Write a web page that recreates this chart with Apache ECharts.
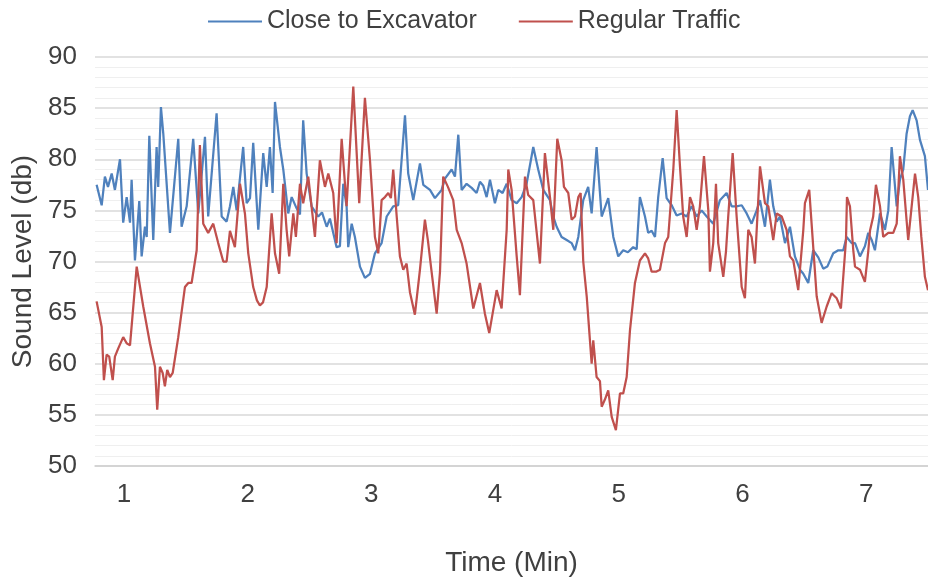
<!DOCTYPE html>
<html>
<head>
<meta charset="utf-8">
<title>Sound Level</title>
<script src="https://cdn.jsdelivr.net/npm/echarts@6/dist/echarts.min.js"></script>
<style>
  html, body { margin: 0; padding: 0; background: #ffffff; }
  #chart { width: 928px; height: 577px; }
</style>
</head>
<body>
<div id="chart"></div>
<script>
// Sound level readings (dB) against elapsed time (minutes)
const seriesNames = ['Close to Excavator', 'Regular Traffic'];
const xTickLabels = [1, 2, 3, 4, 5, 6, 7];

const excavatorTime = [
  0.779, 0.820, 0.846, 0.871, 0.901, 0.927, 0.968, 0.994, 1.022, 1.049,
  1.062, 1.089, 1.124, 1.143, 1.170, 1.184, 1.205, 1.237, 1.264, 1.277,
  1.299, 1.318, 1.372, 1.439, 1.466, 1.507, 1.560, 1.601, 1.655, 1.681,
  1.749, 1.790, 1.830, 1.857, 1.884, 1.911, 1.964, 1.992, 2.019, 2.045,
  2.086, 2.126, 2.154, 2.180, 2.202, 2.221, 2.261, 2.288, 2.328, 2.356,
  2.396, 2.423, 2.449, 2.477, 2.517, 2.571, 2.601, 2.639, 2.665, 2.719,
  2.746, 2.773, 2.800, 2.813, 2.841, 2.867, 2.908, 2.948, 2.989, 3.029,
  3.083, 3.124, 3.177, 3.217, 3.272, 3.298, 3.339, 3.393, 3.420, 3.474,
  3.514, 3.568, 3.595, 3.649, 3.676, 3.703, 3.730, 3.770, 3.811, 3.851,
  3.878, 3.905, 3.932, 3.959, 3.999, 4.026, 4.061, 4.094, 4.134, 4.175,
  4.215, 4.255, 4.309, 4.349, 4.390, 4.444, 4.471, 4.498, 4.538, 4.579,
  4.619, 4.646, 4.673, 4.713, 4.753, 4.781, 4.821, 4.862, 4.915, 4.956,
  4.996, 5.036, 5.074, 5.117, 5.145, 5.171, 5.212, 5.238, 5.266, 5.293,
  5.319, 5.355, 5.387, 5.428, 5.468, 5.508, 5.549, 5.589, 5.630, 5.670,
  5.711, 5.764, 5.818, 5.872, 5.913, 5.953, 5.994, 6.034, 6.074, 6.115,
  6.142, 6.182, 6.222, 6.249, 6.277, 6.303, 6.344, 6.384, 6.424, 6.465,
  6.492, 6.532, 6.572, 6.613, 6.653, 6.686, 6.734, 6.775, 6.815, 6.842,
  6.883, 6.910, 6.950, 6.990, 7.017, 7.045, 7.071, 7.112, 7.152, 7.179,
  7.206, 7.247, 7.273, 7.300, 7.327, 7.354, 7.376, 7.408, 7.435, 7.475,
  7.500
];
const excavatorLevel = [
  77.5, 75.5, 78.3, 77.3, 78.6, 77.0, 80.0, 73.8, 76.3, 73.8,
  78.0, 70.1, 75.9, 70.5, 73.4, 72.4, 82.3, 72.1, 81.2, 77.3,
  85.1, 82.5, 72.8, 82.0, 73.4, 75.4, 82.0, 74.7, 82.2, 74.4,
  84.5, 74.4, 73.9, 75.4, 77.3, 75.0, 81.2, 75.7, 76.2, 81.6,
  73.1, 80.6, 77.3, 81.2, 76.7, 85.6, 81.2, 79.0, 74.7, 76.3,
  75.2, 74.6, 83.8, 78.6, 75.4, 74.4, 74.8, 73.4, 74.2, 71.4,
  71.5, 77.6, 75.4, 71.4, 73.7, 72.4, 69.5, 68.4, 68.8, 70.8,
  71.8, 74.4, 75.4, 75.5, 84.3, 78.6, 76.0, 79.6, 77.5, 77.0,
  76.2, 77.0, 78.1, 79.0, 78.3, 82.4, 77.0, 77.6, 77.2, 76.7,
  77.8, 77.4, 76.3, 78.0, 75.7, 77.0, 76.7, 77.6, 76.0, 75.7,
  76.3, 77.6, 81.2, 79.0, 77.0, 76.0, 74.4, 73.4, 72.4, 72.1,
  71.8, 71.1, 72.4, 76.0, 77.3, 74.7, 81.2, 74.4, 76.2, 72.4,
  70.5, 71.1, 70.9, 71.4, 71.2, 76.3, 74.4, 72.8, 73.0, 72.4,
  76.3, 80.1, 76.2, 75.5, 74.5, 74.7, 74.4, 75.4, 74.4, 75.0,
  74.4, 73.7, 76.0, 76.7, 75.4, 75.4, 75.5, 74.7, 73.7, 75.0,
  76.0, 73.4, 78.0, 75.4, 73.9, 74.4, 71.8, 73.4, 70.5, 69.2,
  68.8, 67.9, 71.1, 70.4, 69.3, 69.5, 70.8, 71.1, 71.1, 72.4,
  71.8, 71.8, 70.5, 71.5, 72.8, 72.1, 71.1, 74.7, 73.1, 75.0,
  81.2, 75.4, 78.0, 79.0, 82.5, 84.2, 84.8, 83.8, 81.9, 80.3,
  77.0
];

const trafficTime = [
  0.779, 0.820, 0.838, 0.860, 0.881, 0.909, 0.927, 0.954, 0.994, 1.022,
  1.049, 1.103, 1.156, 1.210, 1.251, 1.269, 1.291, 1.313, 1.331, 1.350,
  1.372, 1.394, 1.439, 1.493, 1.520, 1.547, 1.588, 1.614, 1.641, 1.681,
  1.722, 1.762, 1.803, 1.830, 1.857, 1.897, 1.938, 1.978, 2.005, 2.045,
  2.075, 2.099, 2.124, 2.154, 2.194, 2.221, 2.255, 2.288, 2.315, 2.336,
  2.369, 2.390, 2.423, 2.449, 2.490, 2.544, 2.584, 2.625, 2.652, 2.692,
  2.719, 2.760, 2.800, 2.854, 2.902, 2.948, 2.989, 3.029, 3.056, 3.083,
  3.110, 3.137, 3.158, 3.177, 3.205, 3.231, 3.258, 3.285, 3.312, 3.352,
  3.393, 3.433, 3.458, 3.482, 3.528, 3.555, 3.581, 3.619, 3.662, 3.690,
  3.730, 3.770, 3.824, 3.878, 3.918, 3.953, 4.013, 4.053, 4.094, 4.107,
  4.134, 4.175, 4.201, 4.242, 4.268, 4.309, 4.363, 4.403, 4.444, 4.471,
  4.503, 4.538, 4.557, 4.592, 4.619, 4.646, 4.673, 4.692, 4.713, 4.741,
  4.767, 4.781, 4.794, 4.821, 4.848, 4.862, 4.888, 4.915, 4.943, 4.977,
  5.010, 5.036, 5.064, 5.091, 5.131, 5.171, 5.212, 5.238, 5.266, 5.301,
  5.333, 5.374, 5.400, 5.441, 5.468, 5.495, 5.521, 5.549, 5.576, 5.602,
  5.630, 5.656, 5.689, 5.724, 5.737, 5.764, 5.786, 5.804, 5.845, 5.867,
  5.885, 5.921, 5.953, 5.994, 6.020, 6.047, 6.074, 6.101, 6.142, 6.182,
  6.209, 6.249, 6.277, 6.317, 6.357, 6.384, 6.411, 6.451, 6.492, 6.505,
  6.540, 6.559, 6.600, 6.640, 6.681, 6.721, 6.762, 6.796, 6.837, 6.845,
  6.869, 6.896, 6.910, 6.950, 6.990, 7.017, 7.031, 7.057, 7.079, 7.112,
  7.138, 7.179, 7.219, 7.247, 7.273, 7.300, 7.340, 7.395, 7.421, 7.446,
  7.475, 7.500
];
const trafficLevel = [
  66.1, 63.6, 58.4, 60.9, 60.7, 58.4, 60.7, 61.5, 62.6, 62.0,
  61.8, 69.5, 65.6, 62.0, 59.7, 55.5, 59.7, 59.1, 57.8, 59.4,
  58.7, 59.1, 62.6, 67.5, 67.9, 67.9, 71.1, 81.4, 73.7, 72.8,
  73.7, 71.8, 70.0, 70.0, 73.0, 71.4, 77.6, 74.7, 70.8, 67.5,
  66.2, 65.7, 66.0, 67.5, 74.7, 70.8, 68.8, 77.6, 73.1, 70.5,
  74.7, 72.4, 77.6, 75.7, 78.3, 72.4, 79.9, 77.3, 78.6, 76.7,
  71.8, 82.0, 75.4, 87.1, 75.7, 86.0, 79.9, 72.4, 70.8, 76.0,
  76.3, 76.7, 76.2, 79.0, 74.4, 70.5, 69.2, 69.8, 67.0, 64.8,
  69.2, 74.1, 72.0, 69.5, 64.9, 69.0, 78.3, 77.3, 76.0, 73.1,
  71.8, 69.8, 65.4, 67.9, 64.9, 63.0, 67.2, 65.4, 73.1, 79.0,
  77.0, 70.5, 66.7, 78.3, 76.5, 76.0, 69.8, 80.6, 76.3, 73.1,
  82.0, 79.9, 77.3, 76.7, 74.1, 74.4, 76.3, 76.7, 70.0, 66.6,
  62.3, 60.0, 62.3, 58.7, 58.3, 55.8, 56.5, 57.4, 54.8, 53.5,
  57.1, 57.1, 58.7, 63.3, 67.9, 70.1, 70.8, 70.3, 69.0, 69.0,
  69.2, 71.8, 72.4, 79.0, 84.8, 79.3, 74.4, 72.4, 76.3, 75.4,
  73.1, 75.4, 80.3, 75.0, 69.0, 71.8, 77.6, 71.8, 68.5, 71.0,
  74.4, 80.6, 74.4, 67.5, 66.4, 73.1, 72.4, 69.8, 79.3, 75.7,
  75.4, 72.1, 74.7, 74.4, 73.1, 70.5, 70.1, 67.2, 73.1, 75.7,
  77.0, 73.7, 66.6, 64.0, 65.6, 66.9, 66.4, 65.4, 72.1, 76.3,
  75.4, 71.1, 69.5, 69.2, 68.0, 71.0, 73.0, 74.4, 77.5, 75.4,
  72.4, 72.8, 72.8, 73.7, 80.3, 78.0, 72.1, 78.6, 76.3, 72.4,
  68.5, 67.2
];

const toPairs = (xs, ys) => xs.map((x, i) => [x, ys[i]]);

const textColor = '#404040';
const fontFamily = '"Liberation Sans", Arial, sans-serif';

const chart = echarts.init(document.getElementById('chart'), null, { renderer: 'canvas' });

chart.setOption({
  animation: false,
  backgroundColor: '#ffffff',
  textStyle: { fontFamily: fontFamily, color: textColor },
  legend: {
    top: 9,
    left: 208,
    padding: 0,
    itemWidth: 54,
    itemHeight: 2,
    itemGap: 42,
    icon: 'rect',
    textStyle: { fontSize: 25, color: textColor, fontFamily: fontFamily },
    data: seriesNames
  },
  grid: {
    left: 95, right: 0, top: 57, bottom: 111,
    containLabel: false,
    outerBoundsMode: 'none'
  },
  xAxis: {
    type: 'value',
    min: 0.766,
    max: 7.5,
    name: 'Time (Min)',
    nameLocation: 'middle',
    nameGap: 83,
    nameTextStyle: { fontSize: 28, color: textColor, fontFamily: fontFamily },
    axisLine: { show: true, lineStyle: { color: '#d0d0d0', width: 1.5 } },
    axisTick: { show: false },
    splitLine: { show: false },
    axisLabel: {
      customValues: xTickLabels,
      fontSize: 26,
      color: textColor,
      margin: 16
    }
  },
  yAxis: {
    type: 'value',
    min: 50,
    max: 90,
    interval: 5,
    name: 'Sound Level (db)',
    nameLocation: 'middle',
    nameGap: 54,
    nameTextStyle: { fontSize: 28, color: textColor, fontFamily: fontFamily },
    axisLine: { show: false },
    axisTick: { show: false },
    axisLabel: { fontSize: 26, color: textColor, margin: 18 },
    splitLine: { show: true, lineStyle: { color: '#d9d9d9', width: 1.5 } },
    minorTick: { show: false, splitNumber: 5 },
    minorSplitLine: { show: true, lineStyle: { color: '#efefef', width: 1 } }
  },
  series: [
    {
      name: seriesNames[0],
      type: 'line',
      data: toPairs(excavatorTime, excavatorLevel),
      showSymbol: false,
      symbol: 'none',
      lineStyle: { color: '#4f81bd', width: 2.25 },
      itemStyle: { color: '#4f81bd' },
      z: 2
    },
    {
      name: seriesNames[1],
      type: 'line',
      data: toPairs(trafficTime, trafficLevel),
      showSymbol: false,
      symbol: 'none',
      lineStyle: { color: '#c0504d', width: 2.25 },
      itemStyle: { color: '#c0504d' },
      z: 3
    }
  ]
});
</script>
</body>
</html>
